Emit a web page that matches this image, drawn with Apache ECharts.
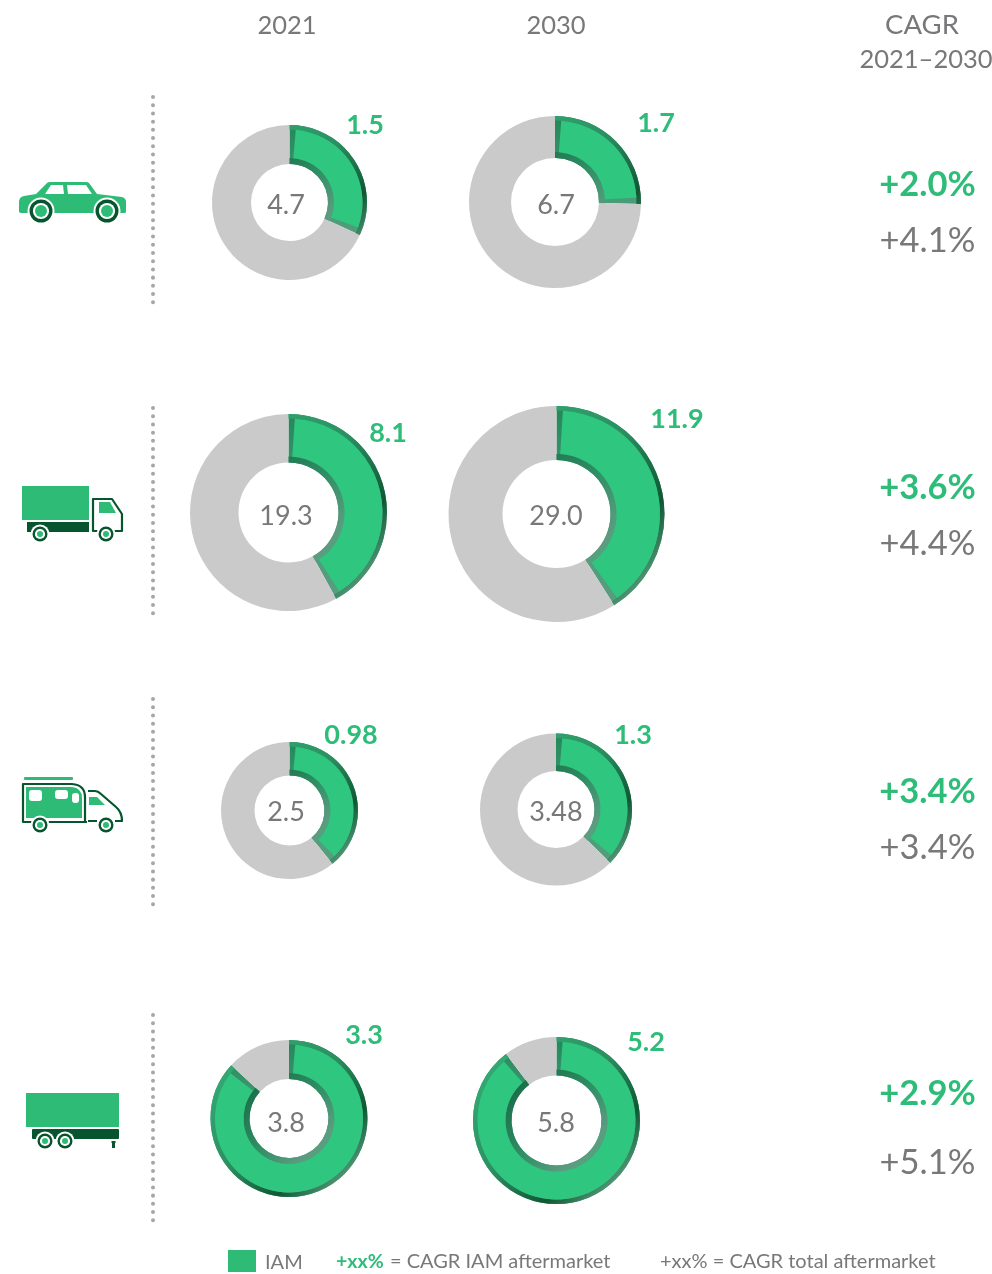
<!DOCTYPE html>
<html>
<head>
<meta charset="utf-8">
<style>
  html, body { margin: 0; padding: 0; background: #fff; }
  #main { width: 992px; height: 1274px; }
</style>
<script src="https://cdn.jsdelivr.net/npm/echarts@6/dist/echarts.min.js"></script>
</head>
<body>
<div id="main"></div>
<script>
// values, one per donut, row by row (2021, 2030)
const iamValues = [1.5, 1.7, 8.1, 11.9, 0.98, 1.3, 3.3, 5.2]
const totalValues = [4.7, 6.7, 19.3, 29.0, 2.5, 3.48, 3.8, 5.8]
const iamLabels = ['1.5', '1.7', '8.1', '11.9', '0.98', '1.3', '3.3', '5.2']
const totalLabels = ['4.7', '6.7', '19.3', '29.0', '2.5', '3.48', '3.8', '5.8']
const cagrIam = ['+2.0%', '+3.6%', '+3.4%', '+2.9%']
const cagrTotal = ['+4.1%', '+4.4%', '+3.4%', '+5.1%']
const years = ['2021', '2030']

// layout: cx, cy, outer radius, inner radius
const donuts = [
  [289.5, 202.5, 77.5, 38.5], [555, 202, 86, 44],
  [288.5, 512.5, 98.5, 50], [556.5, 514, 108, 54],
  [289.5, 810.5, 68.5, 35], [556, 809.5, 76, 38.5],
  [289, 1118.5, 78.5, 39.5], [556.5, 1120.5, 83.5, 45]
]
const iamLabelPos = [[365, 125], [656, 123], [388, 433], [677, 419], [351, 735], [633, 735], [364, 1035], [646, 1042]]
const totalLabelPos = [[286, 205], [556, 205], [286, 516], [556, 516], [286, 812], [556, 812], [286, 1123], [556, 1123]]
const cagrIamY = [185, 488, 792, 1094]
const cagrTotalY = [241, 544, 848, 1163]
const dotLines = [[97, 303], [408, 615], [699, 905], [1015, 1222]]

const FONT = 'Lato, "Open Sans", sans-serif'
const GREY_TEXT = '#78787a'
const GREEN_TEXT = '#2dbd78'
const ICON_GREEN = '#2dbb76'
const ICON_DARK = '#07552e'
const FACE = '#2fc67f'
const REST = '#cacaca'
const BEVEL_OUT = 4.5
const BEVEL_IN = 6
const BEVEL_SIDE = 5

function globalGradient(cx, cy, R, stops) {
  return new echarts.graphic.LinearGradient(cx - R * 0.7, cy - R * 0.7, cx + R * 0.7, cy + R * 0.7, stops, true)
}

function hidden() {
  return { color: 'transparent' }
}

const series = []
donuts.forEach(function (d, i) {
  const cx = d[0], cy = d[1], R = d[2], r = d[3]
  const iam = iamValues[i]
  const rest = totalValues[i] - iam
  const mid = (R + r) / 2
  const base = {
    type: 'pie',
    center: [cx, cy],
    startAngle: 90,
    silent: true,
    animation: false,
    label: { show: false },
    labelLine: { show: false }
  }
  // grey rest, and the two straight bevel sides under the green slice
  series.push(Object.assign({}, base, {
    z: 2,
    radius: [r, R],
    data: [
      {
        value: iam,
        itemStyle: {
          color: new echarts.graphic.LinearGradient(0, cy - R, 0, cy + R, [
            { offset: 0, color: '#23885a' },
            { offset: 0.5, color: '#4a9c78' },
            { offset: 1, color: '#5c9c80' }
          ], true)
        }
      },
      { value: rest, itemStyle: { color: REST } }
    ]
  }))
  // outer bevel goes dark to the lower right
  series.push(Object.assign({}, base, {
    z: 3,
    radius: [R - BEVEL_OUT, R],
    data: [
      {
        value: iam,
        itemStyle: {
          color: globalGradient(cx, cy, R, [
            { offset: 0, color: '#33a873' },
            { offset: 0.45, color: '#2a8f60' },
            { offset: 0.8, color: '#0f5833' },
            { offset: 1, color: '#4a9270' }
          ])
        }
      },
      { value: rest, itemStyle: hidden() }
    ]
  }))
  // inner bevel is lit the other way round
  series.push(Object.assign({}, base, {
    z: 3,
    radius: [r, r + BEVEL_IN],
    data: [
      {
        value: iam,
        itemStyle: {
          color: globalGradient(cx, cy, R, [
            { offset: 0, color: '#0f5c38' },
            { offset: 0.5, color: '#2f8f65' },
            { offset: 0.75, color: '#5c9c80' },
            { offset: 1, color: '#35b27a' }
          ])
        }
      },
      { value: rest, itemStyle: hidden() }
    ]
  }))
  // flat face, inset from the bevel on all four sides
  const inset = BEVEL_SIDE / mid * 180 / Math.PI
  const shrink = totalValues[i] * inset * 2 / 360
  series.push(Object.assign({}, base, {
    z: 4,
    startAngle: 90 - inset,
    radius: [r + BEVEL_IN, R - BEVEL_OUT],
    data: [
      { value: iam - shrink, itemStyle: { color: FACE } },
      { value: rest + shrink, itemStyle: hidden() }
    ]
  }))
})

function text(x, y, str, size, color, weight, align) {
  return {
    type: 'text',
    x: x,
    y: y,
    z: 10,
    silent: true,
    style: {
      text: str,
      fill: color,
      font: (weight || 'normal') + ' ' + size + 'px ' + FONT,
      align: align || 'center',
      verticalAlign: 'middle'
    }
  }
}

// the graphic component has no plain 'path' type, so icon shapes get registered by name
let shapeCount = 0
function pathType(pathData) {
  const name = 'iconShape' + (shapeCount++)
  echarts.graphic.registerShape(name, echarts.graphic.extendPath(pathData, {}))
  return name
}

function icon(pathData, fill) {
  return { type: pathType(pathData), silent: true, z: 5, style: { fill: fill } }
}

function outline(pathData, stroke, width, fill) {
  return {
    type: pathType(pathData), silent: true, z: 5,
    style: { fill: fill || 'none', stroke: stroke, lineWidth: width, lineJoin: 'round' }
  }
}

function rect(x, y, w, h, fill, radius) {
  return { type: 'rect', silent: true, z: 5, shape: { x: x, y: y, width: w, height: h, r: radius || 0 }, style: { fill: fill } }
}

function wheel(x, y, halo, ring, thick, hub) {
  return [
    { type: 'circle', silent: true, z: 6, shape: { cx: x, cy: y, r: halo }, style: { fill: '#fff' } },
    { type: 'circle', silent: true, z: 6, shape: { cx: x, cy: y, r: ring }, style: { fill: ICON_DARK } },
    { type: 'circle', silent: true, z: 6, shape: { cx: x, cy: y, r: ring - thick }, style: { fill: '#fff' } },
    { type: 'circle', silent: true, z: 6, shape: { cx: x, cy: y, r: hub }, style: { fill: ICON_GREEN } }
  ]
}

const graphics = []

// headers
graphics.push(text(287, 26, years[0], 25.5, GREY_TEXT))
graphics.push(text(556, 26, years[1], 25.5, GREY_TEXT))
graphics.push(text(922, 25, 'CAGR', 27.5, GREY_TEXT))
graphics.push(text(926, 60, '2021–2030', 25.5, GREY_TEXT))

iamLabels.forEach(function (s, i) {
  graphics.push(text(iamLabelPos[i][0], iamLabelPos[i][1], s, 27, GREEN_TEXT, 'bold'))
})
totalLabels.forEach(function (s, i) {
  graphics.push(text(totalLabelPos[i][0], totalLabelPos[i][1], s, 27, GREY_TEXT))
})
cagrIam.forEach(function (s, i) {
  graphics.push(text(927.5, cagrIamY[i], s, 34.5, GREEN_TEXT, 'bold'))
})
cagrTotal.forEach(function (s, i) {
  graphics.push(text(927.5, cagrTotalY[i], s, 34.5, GREY_TEXT))
})

dotLines.forEach(function (l) {
  graphics.push({
    type: 'line', silent: true, z: 5,
    shape: { x1: 153, y1: l[0], x2: 153, y2: l[1] },
    style: { stroke: '#a6a6a6', lineWidth: 4, lineCap: 'round', lineDash: [0.01, 8.2] }
  })
})

// car
graphics.push(icon('M19 202 Q19 197 24 196 L36 194 L47 183 Q48 182 50 182 L86 182 Q88 182 89 183 L97 194 L122 197 Q126 198 126 202 L126 212 Q126 213 124 213 L22 213 Q19 213 19 211 Z', ICON_GREEN))
graphics.push(icon('M51 185 L63 185 L64 194 L45 194 Z', '#fff'))
graphics.push(icon('M67 185 L86 185 L92 194 L68 194 Z', '#fff'))
graphics.push(...wheel(41, 211, 13.5, 11.5, 3.4, 6))
graphics.push(...wheel(107, 211, 13.5, 11.5, 3.4, 6))

// truck
graphics.push(rect(22, 486, 67, 34, ICON_GREEN))
graphics.push(rect(27, 522, 62, 10, ICON_DARK))
graphics.push(outline('M93 531 L93 499 L112 499 L122 514 L122 531 Z', ICON_DARK, 2.2))
graphics.push(icon('M99 502 L110 502 L116 513 L99 513 Z', ICON_GREEN))
graphics.push(...wheel(40, 534, 9.5, 7.5, 2.4, 3))
graphics.push(...wheel(106, 534, 9.5, 7.5, 2.4, 3))

// camper
graphics.push(rect(24, 777, 49, 3, ICON_GREEN, 1))
graphics.push(outline('M87 822 L23 822 L23 784 L72 784 Q85 785 85 797 L85 822', ICON_DARK, 2.2))
graphics.push(icon('M26 787 L72 787 Q82 788 82 798 L82 818 L26 818 Z', ICON_GREEN))
graphics.push(rect(29, 790, 13, 11, '#fff', 3))
graphics.push(rect(55, 790, 13, 9, '#fff', 3))
graphics.push(rect(72, 793, 7, 10, '#fff', 3))
graphics.push(outline('M88 791 L95 791 Q98 791 101 794 L116 807 Q122 812 122 821 L115 821 M88 821 L97 821', ICON_DARK, 2.2))
graphics.push(icon('M89 797 L97 797 L105 805 L89 805 Z', ICON_GREEN))
graphics.push(...wheel(40, 825, 9.5, 7.5, 2.4, 3))
graphics.push(...wheel(106, 825, 9.5, 7.5, 2.4, 3))

// trailer
graphics.push(rect(26, 1093, 93, 34, ICON_GREEN))
graphics.push(rect(32, 1129, 87, 10, ICON_DARK, 1))
graphics.push(rect(112, 1141, 3, 7, ICON_DARK))
graphics.push(rect(111.5, 1141, 4, 2, ICON_DARK))
graphics.push(...wheel(45, 1141, 9.5, 7.5, 2.4, 3))
graphics.push(...wheel(65, 1141, 9.5, 7.5, 2.4, 3))

// legend
graphics.push(rect(228, 1250, 28, 22, ICON_GREEN))
graphics.push(text(265, 1263, 'IAM', 20, GREY_TEXT, 'normal', 'left'))
graphics.push(text(336, 1262, '+xx%', 19.5, GREEN_TEXT, 'bold', 'left'))
graphics.push(text(390, 1262, '= CAGR IAM aftermarket', 20, GREY_TEXT, 'normal', 'left'))
graphics.push(text(660, 1262, '+xx% = CAGR total aftermarket', 20, GREY_TEXT, 'normal', 'left'))

const myChart = echarts.init(document.getElementById('main'), null, { renderer: 'canvas' })
myChart.setOption({
  backgroundColor: '#fff',
  animation: false,
  series: series,
  graphic: { elements: graphics }
})
</script>
</body>
</html>
